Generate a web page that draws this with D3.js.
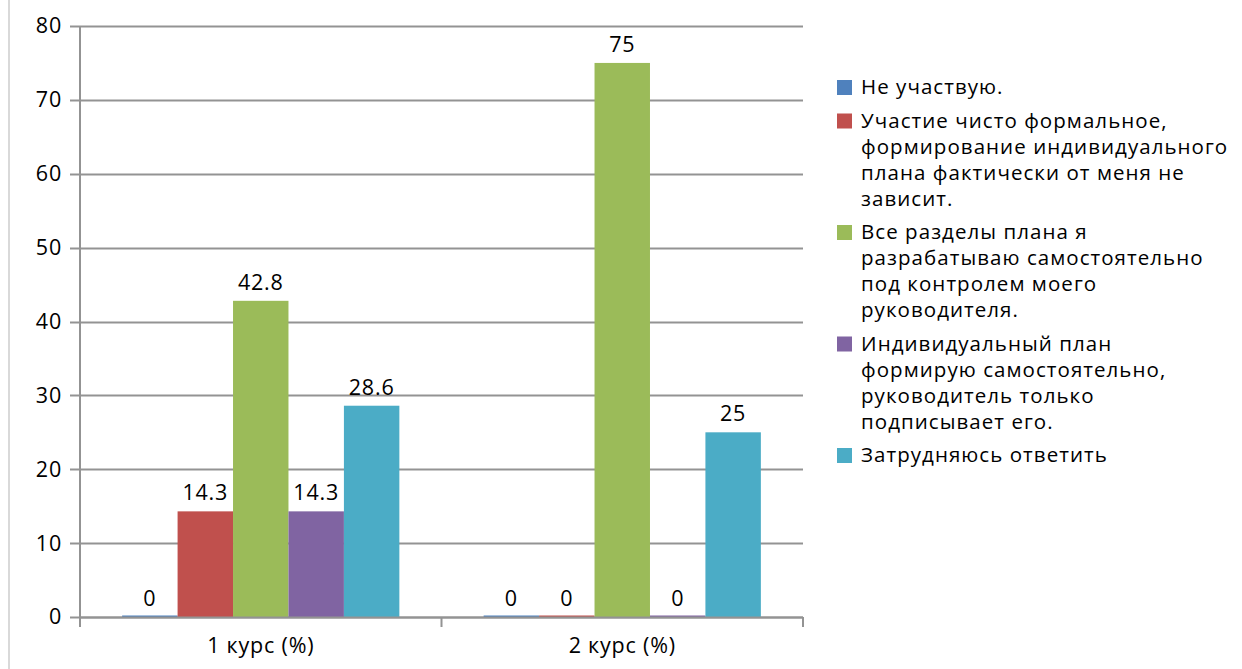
<!DOCTYPE html>
<html><head><meta charset="utf-8">
<script src="https://cdn.jsdelivr.net/npm/d3@7"></script>
<style>body{margin:0;background:#fff;}svg{display:block;font-family:"Open Sans",sans-serif;}</style>
</head><body>
<svg id="c" width="1242" height="669"></svg>
<script>
const categories = ["1 курс (%)", "2 курс (%)"];
const seriesNames = [
  "Не участвую.",
  "Участие чисто формальное, формирование индивидуального плана фактически от меня не зависит.",
  "Все разделы плана я разрабатываю самостоятельно под контролем моего руководителя.",
  "Индивидуальный план формирую самостоятельно, руководитель только подписывает его.",
  "Затрудняюсь ответить"
];
const legendLines = [
  ["Не участвую."],
  ["Участие чисто формальное,", "формирование индивидуального", "плана фактически от меня не", "зависит."],
  ["Все разделы плана я", "разрабатываю самостоятельно", "под контролем моего", "руководителя."],
  ["Индивидуальный план", "формирую самостоятельно,", "руководитель только", "подписывает его."],
  ["Затрудняюсь ответить"]
];
const colors = ["#4f81bd", "#c0504d", "#9bbb59", "#8064a2", "#4bacc6"];
const values = [
  [0, 0],
  [14.3, 0],
  [42.8, 75],
  [14.3, 0],
  [28.6, 25]
];
const yTicks = [0, 10, 20, 30, 40, 50, 60, 70, 80];

const svg = d3.select("#c");
svg.append("line").attr("x1", 9).attr("x2", 9).attr("y1", 0).attr("y2", 669)
  .attr("stroke", "#d9d9d9").attr("stroke-width", 2);

const pLeft = 80, pRight = 803, pTop = 26, pBottom = 617;
const fs = 21.5, ls = 0.8;
const y = d3.scaleLinear().domain([0, 80]).range([pBottom, pTop]);
const x0 = d3.scaleBand().domain(categories).range([pLeft, pRight]).paddingInner(0).paddingOuter(0);
const x1 = d3.scaleBand().domain(d3.range(seriesNames.length)).range([0, x0.bandwidth()]).paddingOuter(0.76).paddingInner(0);

svg.append("g").selectAll("line").data(yTicks).join("line")
  .attr("x1", pLeft - 10).attr("x2", pRight)
  .attr("y1", d => Math.round(y(d)) + 0.5).attr("y2", d => Math.round(y(d)) + 0.5)
  .attr("stroke", "#939393").attr("stroke-width", 2);

const yAxis = d3.axisLeft(y).tickValues(yTicks).tickSize(0).tickPadding(18);
const ya = svg.append("g").attr("transform", `translate(${pLeft},0)`).call(yAxis);
ya.select(".domain").attr("stroke", "#939393").attr("stroke-width", 2).attr("d", `M0,${pTop}V${pBottom + 10}`);
ya.selectAll("text").attr("font-size", fs).attr("letter-spacing", ls).attr("fill", "#000").attr("font-family", "Open Sans");

const groups = svg.append("g").selectAll("g").data(categories).join("g")
  .attr("transform", d => `translate(${x0(d)},0)`);
seriesNames.forEach((s, i) => {
  groups.append("rect")
    .attr("x", x1(i)).attr("width", x1.bandwidth())
    .attr("y", (d, j) => values[i][j] === 0 ? y(0) - 1.5 : y(values[i][j]))
    .attr("height", (d, j) => values[i][j] === 0 ? 2 : y(0) - y(values[i][j]))
    .attr("fill", colors[i]);
  groups.append("text")
    .attr("x", x1(i) + x1.bandwidth() / 2)
    .attr("y", (d, j) => y(values[i][j]) - 11)
    .attr("text-anchor", "middle").attr("font-size", fs).attr("letter-spacing", ls).attr("fill", "#000")
    .text((d, j) => values[i][j]);
});

const xa = svg.append("g").attr("transform", `translate(0,${pBottom})`)
  .call(d3.axisBottom(x0).tickSize(0).tickPadding(21));
xa.select(".domain").remove();
xa.selectAll("text").attr("font-size", fs).attr("letter-spacing", ls).attr("fill", "#000").attr("font-family", "Open Sans");
svg.append("line").attr("x1", pLeft).attr("x2", pRight).attr("y1", pBottom + 0.5).attr("y2", pBottom + 0.5)
  .attr("stroke", "#939393").attr("stroke-width", 2);
const bounds = [pLeft].concat(categories.map(c => x0(c) + x0.bandwidth()));
svg.append("g").selectAll("line").data(bounds).join("line")
  .attr("x1", d => d).attr("x2", d => d).attr("y1", pBottom).attr("y2", pBottom + 10)
  .attr("stroke", "#939393").attr("stroke-width", 2);

const lg = svg.append("g");
let ly = 87;
legendLines.forEach((lines, i) => {
  lg.append("rect").attr("x", 837).attr("y", ly - 7).attr("width", 15).attr("height", 15).attr("fill", colors[i]);
  lines.forEach((t, k) => {
    lg.append("text").attr("x", 861).attr("y", ly + k * 26).attr("dy", "0.35em")
      .attr("font-size", 20.5).attr("letter-spacing", 1.05).attr("fill", "#000").text(t);
  });
  ly += lines.length * 26 + 7.5;
});
</script>
</body></html>
